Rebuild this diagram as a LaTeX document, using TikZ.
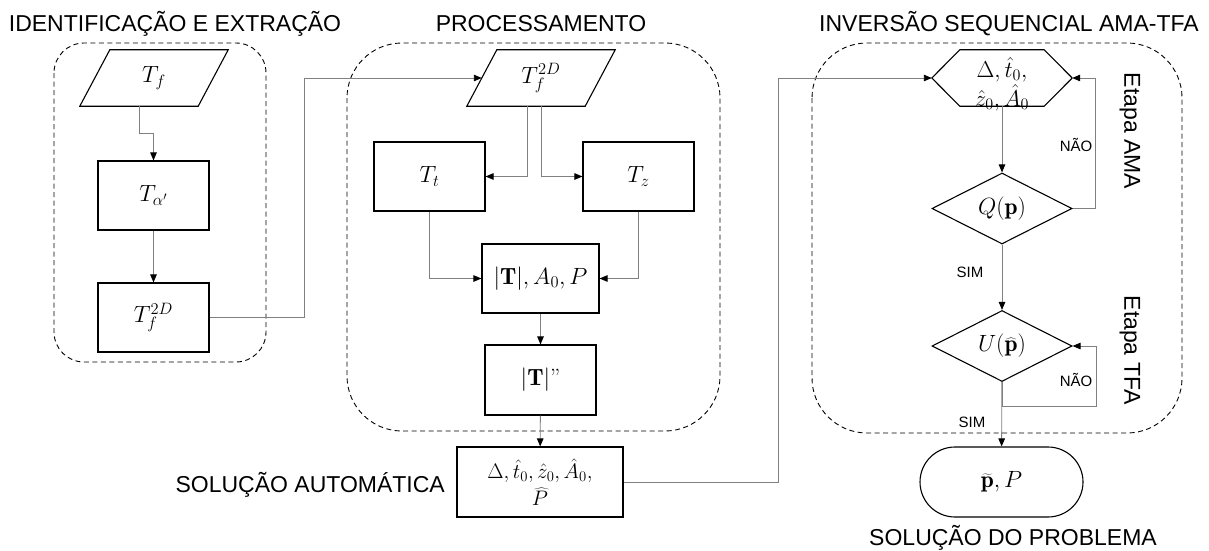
\RequirePackage{fix-cm}
\documentclass[tikz,border=0pt]{standalone}
\usepackage{fontspec}
\setsansfont{Liberation Sans}
\usetikzlibrary{arrows.meta,shapes.geometric,calc}

\newcommand\mathsz{\fontsize{23.5}{28}\selectfont}
\newcommand\titlesz{\sffamily\fontsize{23}{27}\selectfont}
\newcommand\notesz{\sffamily\fontsize{15}{18}\selectfont}

\begin{document}
\begin{tikzpicture}[x=1pt,y=-1pt,
  outline/.style={draw=black,line width=1.1pt},
  stepbox/.style={outline,rectangle,minimum width=111pt,minimum height=69pt,inner sep=0pt,font=\mathsz},
  iobox/.style={rectangle,minimum width=148pt,minimum height=56pt,inner sep=0pt,font=\mathsz},
  hexbox/.style={rectangle,minimum width=140pt,minimum height=56pt,inner sep=0pt},
  decision/.style={outline,diamond,aspect=2,minimum width=140pt,minimum height=71pt,inner sep=0pt,font=\mathsz},
  terminal/.style={outline,rectangle,rounded corners=35pt,minimum width=163pt,minimum height=70pt,inner sep=0pt,font=\mathsz},
  group/.style={draw=black,line width=0.9pt,dash pattern=on 5pt off 3.5pt},
  conn/.style={draw=black!50,line width=0.9pt,-{Triangle[length=8pt,width=6.5pt,color=black]}},
  title/.style={font=\titlesz,inner sep=0pt},
  note/.style={font=\notesz,inner sep=0pt}]
\useasboundingbox (0,0) rectangle (1209,551);

% dashed stage groups
\draw[group,rounded corners=30pt] (54,43) rectangle (266,362);
\draw[group,rounded corners=55pt] (347,43) rectangle (720,431);
\draw[group,rounded corners=55pt] (812,43) rectangle (1182,433);

% stage titles
\node[title] (t1) at (175,24) {IDENTIFICAÇÃO E EXTRAÇÃO};
\node[title] (t2) at (541,24) {PROCESSAMENTO};
\node[title] (t3) at (1009,24) {INVERSÃO SEQUENCIAL AMA-TFA};
\node[title,anchor=east] (t4) at (445,485) {SOLUÇÃO AUTOMÁTICA};
\node[title] (t5) at (1013,538) {SOLUÇÃO DO PROBLEMA};
\node[title,rotate=-90] (t6) at (1130,131) {Etapa AMA};
\node[title,rotate=-90] (t7) at (1130,350) {Etapa TFA};

% identification and extraction
\node[iobox] (tf) at (154,78) {$T_f$};
\draw[outline] (tf.south west) -- ($(tf.north west)+(30,0)$) -- (tf.north east) -- ($(tf.south east)+(-30,0)$) -- cycle;
\node[stepbox] (ta) at (153.5,195.5) {$T_{\alpha'}$};
\node[stepbox] (tfb) at (153.5,317.5) {$T_f^{2D}$};

% processing
\node[iobox] (tf2) at (541,78) {$T_f^{2D}$};
\draw[outline] (tf2.south west) -- ($(tf2.north west)+(30,0)$) -- (tf2.north east) -- ($(tf2.south east)+(-30,0)$) -- cycle;
\node[stepbox] (tt) at (429.5,176.5) {$T_t$};
\node[stepbox] (tz) at (638.5,176.5) {$T_z$};
\node[stepbox,minimum width=117pt] (tabs) at (540.5,278.5) {$|\mathbf{T}|, A_0, P$};
\node[stepbox,minimum height=70pt] (tpp) at (540.5,380) {$|\mathbf{T}|$''};
\node[stepbox,minimum width=166pt,minimum height=70pt,align=center,font=\fontsize{21}{27}\selectfont] (sol) at (540,482)
  {$\Delta, \hat{t}_0, \hat{z}_0, \hat{A}_0,$\\ $\widehat{P}$};

% sequential inversion
\node[hexbox] (hex) at (1002,78) {};
\draw[outline] (hex.west) -- ($(hex.north west)+(28,0)$) -- ($(hex.north east)+(-28,0)$) -- (hex.east)
  -- ($(hex.south east)+(-28,0)$) -- ($(hex.south west)+(28,0)$) -- cycle;
\node[align=center,inner sep=0pt,font=\fontsize{23}{29}\selectfont] (hextext) at (1002,84)
  {$\Delta, \hat{t}_0,$\\ $\hat{z}_0, \hat{A}_0$};
\node[decision] (q) at (1002,208.5) {$Q(\mathbf{p})$};
\node[decision] (u) at (1002,346) {$U(\widehat{\mathbf{p}})$};
\node[terminal] (end) at (1001.5,482) {$\widetilde{\mathbf{p}}, P$};

% connectors
\draw[conn] ($(tf.south)+(-15,0)$) -- ++(0,27) -| (ta.north);
\draw[conn] (ta) -- (tfb);
\draw[conn] (tfb.east) -- ++(95,0) |- ($(tf2.west)+(15,0)$);
\draw[conn] ($(tf2.south)+(-14,0)$) |- (tt.east);
\draw[conn] (tf2.south) |- (tz.west);
\draw[conn] (tt.south) |- (tabs.west);
\draw[conn] (tz.south) |- (tabs.east);
\draw[conn] (tabs) -- (tpp);
\draw[conn] (tpp) -- (sol);
\draw[conn] (sol.east) -- ++(155,0) |- (hex.west);
\draw[conn] (hex) -- (q);
\draw[conn] (q.east) -- ++(23,0) |- (hex.east);
\draw[conn] (q) -- (u);
\draw[conn] (u) -- (end);
\draw[conn] (u.south) -- ++(0,24) -- ++(94,0) |- (u.east);

% branch labels
\node[note] (n1) at (1076,145) {NÃO};
\node[note] (s1) at (970,272) {SIM};
\node[note] (n2) at (1076,380) {NÃO};
\node[note] (s2) at (972,422) {SIM};
\end{tikzpicture}
\end{document}
